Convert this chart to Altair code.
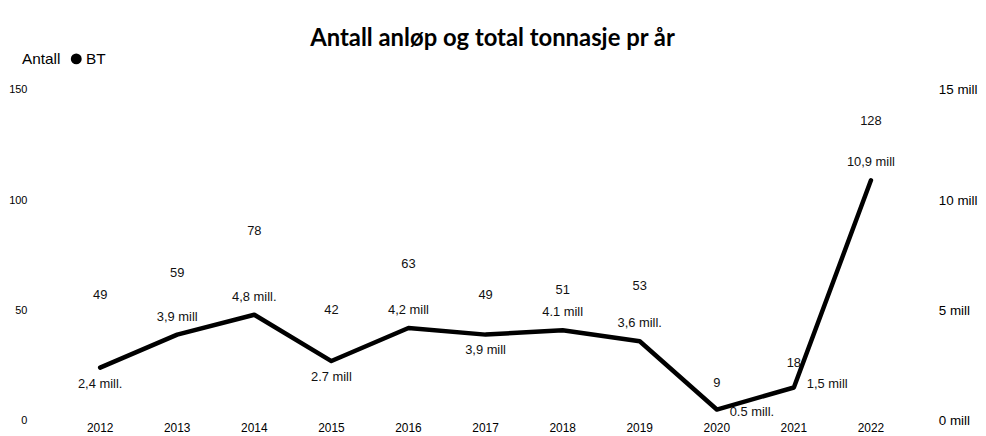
import altair as alt
import pandas as pd

years = ["2012", "2013", "2014", "2015", "2016", "2017", "2018", "2019", "2020", "2021", "2022"]
antall = [49, 59, 78, 42, 63, 49, 51, 53, 9, 18, 128]
bt_mill = [2.4, 3.9, 4.8, 2.7, 4.2, 3.9, 4.1, 3.6, 0.5, 1.5, 10.9]
bt_labels = ["2,4 mill.", "3,9 mill", "4,8 mill.", "2.7 mill", "4,2 mill", "3,9 mill",
             "4.1 mill", "3,6 mill.", "0.5 mill.", "1,5 mill", "10,9 mill"]
label_above = ["2013", "2014", "2016", "2018", "2019", "2022"]
label_below = ["2012", "2015", "2017"]
label_right_low = ["2020"]
label_right_high = ["2021"]

df = pd.DataFrame({"year": years, "antall": antall, "bt": bt_mill,
                   "bt_label": bt_labels, "serie": ["BT"] * len(years)})

FONT = "Liberation Sans"

x = alt.X("year:O", title=None,
          scale=alt.Scale(paddingInner=0.2, paddingOuter=0.1),
          axis=alt.Axis(labelAngle=0, ticks=False, domain=False, labelPadding=2,
                        labelFont=FONT, labelFontSize=12, labelColor="#000"))

base = alt.Chart(df)

left_scale = alt.Scale(domain=[0, 150])
left_axis = alt.Axis(values=[0, 50, 100, 150], grid=False, ticks=False, domain=False,
                     labelPadding=35, labelFont=FONT, labelFontSize=11, labelColor="#000")

bars = base.mark_bar(color="white").encode(
    x=x, y=alt.Y("antall:Q", title=None, scale=left_scale, axis=left_axis))
bar_text = base.mark_text(font=FONT, fontSize=13, color="#111", dy=-18, baseline="middle").encode(
    x=x, y=alt.Y("antall:Q", title=None, scale=left_scale, axis=left_axis), text="antall:Q")

left = alt.layer(bars, bar_text)

right_scale = alt.Scale(domain=[0, 15])
right_axis = alt.Axis(orient="right", values=[0, 5, 10, 15], grid=False, ticks=False,
                      domain=False, labelPadding=29, labelFont=FONT, labelFontSize=13.5,
                      labelColor="#000", labelExpr="datum.value + ' mill'")
y_right = alt.Y("bt:Q", title=None, scale=right_scale, axis=right_axis)

line = base.mark_line(strokeWidth=4.5, strokeCap="round", strokeJoin="round").encode(
    x=x, y=y_right,
    color=alt.Color("serie:N", scale=alt.Scale(range=["black"]),
                    legend=alt.Legend(title="Antall", titleOrient="left", orient="none",
                                      legendX=-40, legendY=-39, symbolType="circle",
                                      symbolFillColor="black", symbolStrokeColor="black",
                                      symbolSize=120, symbolStrokeWidth=0,
                                      titleFont=FONT, titleFontWeight="normal", titleFontSize=15.5,
                                      titleColor="#000", titlePadding=8, labelOffset=2,
                                      labelFont=FONT, labelFontSize=15.5, labelColor="#000")))

def lbl(sel, **kw):
    return base.transform_filter(alt.FieldOneOfPredicate(field="year", oneOf=sel)).mark_text(
        font=FONT, fontSize=13, color="#111", baseline="middle", **kw).encode(
        x=x, y=y_right, text="bt_label:N")

right = alt.layer(
    line,
    lbl(label_above, dy=-18),
    lbl(label_below, dy=16),
    lbl(label_right_low, dx=13, dy=2, align="left"),
    lbl(label_right_high, dx=13, dy=-3, align="left"),
)

chart = alt.layer(left, right).resolve_scale(y="independent").properties(
    width=854, height=333,
    padding={"left": 0, "top": 18, "right": 0, "bottom": 0},
    title=alt.Title("Antall anløp og total tonnasje pr år", font="Lato", fontSize=24,
                    fontWeight="bold", color="#000", offset=0, dx=7),
).configure_view(stroke=None)

chart.save("out.html", embed_options={"renderer": "svg", "actions": False})
